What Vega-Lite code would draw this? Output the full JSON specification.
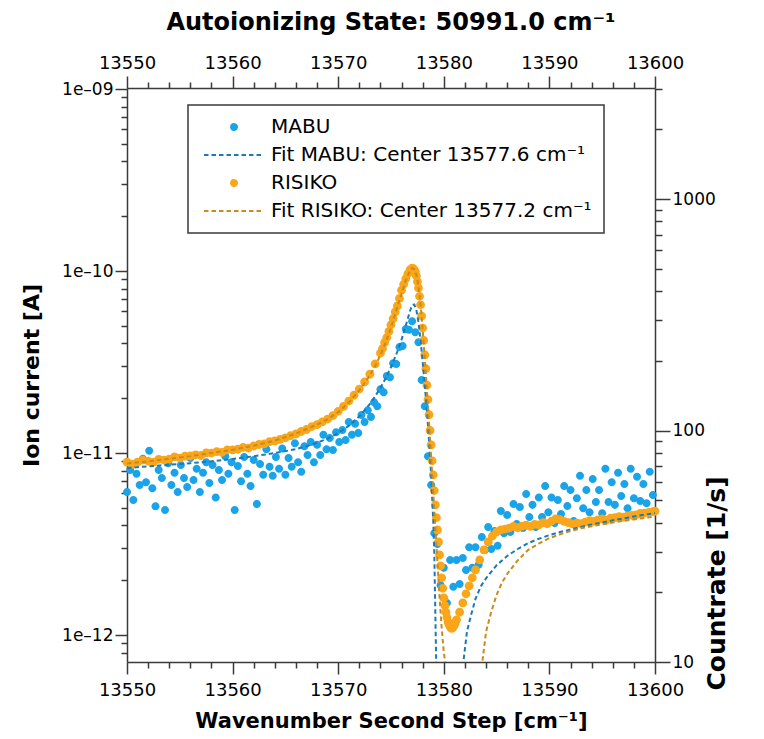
{
"$schema": "https://vega.github.io/schema/vega-lite/v6.json",
"width": 528, "height": 574,
"autosize": "none",
"padding": {"left": 127, "top": 88, "right": 109, "bottom": 77},
"background": "white",
"config": {
  "view": {"stroke": null},
  "font": "DejaVu Sans",
  "axis": {"domainColor": "#3a3a3a", "domainWidth": 1.5, "tickColor": "#3a3a3a", "tickWidth": 1.5, "labelFont": "DejaVu Sans", "labelFontSize": 17, "labelColor": "black", "titleFont": "DejaVu Sans", "titleFontSize": 22, "titleFontWeight": "bold", "titleColor": "black", "grid": false, "labelFlush": false, "labelOverlap": false},
  "legend": {"orient": "none", "legendX": 61, "legendY": 17, "padding": 12, "strokeColor": "#3a3a3a", "strokeWidth": 1.5, "fillColor": "white", "labelFont": "DejaVu Sans", "labelFontSize": 20, "labelColor": "black", "labelLimit": 0, "symbolSize": 100, "symbolStrokeWidth": 2, "symbolOpacity": 1, "symbolOffset": 24, "labelOffset": 27, "rowPadding": 8}
},
"title": {"text": "Autoionizing State: 50991.0 cm⁻¹", "font": "DejaVu Sans", "fontSize": 24, "fontWeight": "bold", "color": "black", "offset": 19},
"datasets": {
"mabu": [
{"wavenumber":13550.0,"current":6.1e-12},{"wavenumber":13550.3,"current":8.07e-12},{"wavenumber":13550.6,"current":5.52e-12},{"wavenumber":13550.9,"current":7.7e-12},{"wavenumber":13551.2,"current":6.68e-12},{"wavenumber":13551.5,"current":9.3e-12},{"wavenumber":13551.8,"current":6.9e-12},{"wavenumber":13552.1,"current":10.3e-12},{"wavenumber":13552.4,"current":6.4e-12},{"wavenumber":13552.7,"current":5.1e-12},
{"wavenumber":13553.0,"current":8.07e-12},{"wavenumber":13553.3,"current":7.3e-12},{"wavenumber":13553.6,"current":4.87e-12},{"wavenumber":13553.9,"current":8.8e-12},{"wavenumber":13554.2,"current":6.68e-12},{"wavenumber":13554.5,"current":7.8e-12},{"wavenumber":13554.8,"current":6.1e-12},{"wavenumber":13555.1,"current":8.6e-12},{"wavenumber":13555.4,"current":7.3e-12},{"wavenumber":13555.7,"current":6.5e-12},
{"wavenumber":13556.0,"current":9.4e-12},{"wavenumber":13556.3,"current":7.1e-12},{"wavenumber":13556.6,"current":8.2e-12},{"wavenumber":13556.9,"current":6.1e-12},{"wavenumber":13557.2,"current":7.8e-12},{"wavenumber":13557.5,"current":8.9e-12},{"wavenumber":13557.8,"current":6.85e-12},{"wavenumber":13558.1,"current":8.6e-12},{"wavenumber":13558.4,"current":5.7e-12},{"wavenumber":13558.7,"current":8.07e-12},
{"wavenumber":13559.0,"current":7.1e-12},{"wavenumber":13559.3,"current":9.6e-12},{"wavenumber":13559.6,"current":7.7e-12},{"wavenumber":13559.9,"current":8.9e-12},{"wavenumber":13560.2,"current":4.87e-12},{"wavenumber":13560.5,"current":8.5e-12},{"wavenumber":13560.8,"current":7.0e-12},{"wavenumber":13561.1,"current":9.5e-12},{"wavenumber":13561.4,"current":7.7e-12},{"wavenumber":13561.7,"current":6.6e-12},
{"wavenumber":13562.0,"current":9.15e-12},{"wavenumber":13562.3,"current":5.25e-12},{"wavenumber":13562.6,"current":8.7e-12},{"wavenumber":13562.9,"current":7.6e-12},{"wavenumber":13563.2,"current":10.5e-12},{"wavenumber":13563.5,"current":8.4e-12},{"wavenumber":13563.8,"current":7.5e-12},{"wavenumber":13564.1,"current":9.5e-12},{"wavenumber":13564.4,"current":8.2e-12},{"wavenumber":13564.7,"current":10.6e-12},
{"wavenumber":13565.0,"current":7.6e-12},{"wavenumber":13565.3,"current":9.4e-12},{"wavenumber":13565.6,"current":8.4e-12},{"wavenumber":13565.9,"current":11.3e-12},{"wavenumber":13566.2,"current":8.9e-12},{"wavenumber":13566.5,"current":7.9e-12},{"wavenumber":13566.8,"current":10.9e-12},{"wavenumber":13567.1,"current":9.75e-12},{"wavenumber":13567.4,"current":11.5e-12},{"wavenumber":13567.7,"current":8.9e-12},
{"wavenumber":13568.0,"current":11.1e-12},{"wavenumber":13568.3,"current":9.75e-12},{"wavenumber":13568.6,"current":12.6e-12},{"wavenumber":13568.9,"current":10.5e-12},{"wavenumber":13569.2,"current":12.1e-12},{"wavenumber":13569.5,"current":10.4e-12},{"wavenumber":13569.8,"current":13.0e-12},{"wavenumber":13570.1,"current":11.5e-12},{"wavenumber":13570.4,"current":13.4e-12},{"wavenumber":13570.7,"current":11.8e-12},
{"wavenumber":13571.0,"current":14.8e-12},{"wavenumber":13571.3,"current":12.6e-12},{"wavenumber":13571.6,"current":14.5e-12},{"wavenumber":13571.9,"current":12.9e-12},{"wavenumber":13572.2,"current":16.2e-12},{"wavenumber":13572.5,"current":14.8e-12},{"wavenumber":13572.8,"current":17.2e-12},{"wavenumber":13573.1,"current":15.8e-12},{"wavenumber":13573.4,"current":19.0e-12},{"wavenumber":13573.7,"current":18.1e-12},
{"wavenumber":13574.0,"current":22.4e-12},{"wavenumber":13574.3,"current":21.6e-12},{"wavenumber":13574.6,"current":26.5e-12},{"wavenumber":13574.9,"current":26.1e-12},{"wavenumber":13575.2,"current":31.1e-12},{"wavenumber":13575.5,"current":30.8e-12},{"wavenumber":13575.8,"current":38.2e-12},{"wavenumber":13576.1,"current":38.7e-12},{"wavenumber":13576.4,"current":48.0e-12},{"wavenumber":13576.7,"current":47.5e-12},
{"wavenumber":13577.0,"current":52.9e-12},{"wavenumber":13577.3,"current":46.1e-12},{"wavenumber":13577.6,"current":40.6e-12},{"wavenumber":13577.9,"current":25.2e-12},{"wavenumber":13578.2,"current":18.1e-12},{"wavenumber":13578.5,"current":9.6e-12},{"wavenumber":13578.8,"current":6.68e-12},{"wavenumber":13579.1,"current":3.63e-12},{"wavenumber":13579.4,"current":3.16e-12},{"wavenumber":13579.7,"current":1.88e-12},
{"wavenumber":13580.0,"current":2.34e-12},{"wavenumber":13580.3,"current":1.50e-12},{"wavenumber":13580.6,"current":2.58e-12},{"wavenumber":13580.9,"current":1.84e-12},{"wavenumber":13581.2,"current":2.58e-12},{"wavenumber":13581.5,"current":1.91e-12},{"wavenumber":13581.8,"current":2.65e-12},{"wavenumber":13582.1,"current":2.28e-12},{"wavenumber":13582.4,"current":3.04e-12},{"wavenumber":13582.7,"current":2.34e-12},
{"wavenumber":13583.0,"current":3.04e-12},{"wavenumber":13583.3,"current":2.43e-12},{"wavenumber":13583.6,"current":3.46e-12},{"wavenumber":13583.9,"current":2.93e-12},{"wavenumber":13584.2,"current":3.92e-12},{"wavenumber":13584.5,"current":2.97e-12},{"wavenumber":13584.8,"current":3.73e-12},{"wavenumber":13585.1,"current":3.09e-12},{"wavenumber":13585.4,"current":4.8e-12},{"wavenumber":13585.7,"current":3.63e-12},
{"wavenumber":13586.0,"current":4.57e-12},{"wavenumber":13586.3,"current":3.68e-12},{"wavenumber":13586.6,"current":5.25e-12},{"wavenumber":13586.9,"current":4.07e-12},{"wavenumber":13587.2,"current":5.05e-12},{"wavenumber":13587.5,"current":3.87e-12},{"wavenumber":13587.8,"current":5.95e-12},{"wavenumber":13588.1,"current":4.45e-12},{"wavenumber":13588.4,"current":5.19e-12},{"wavenumber":13588.7,"current":3.92e-12},
{"wavenumber":13589.0,"current":5.7e-12},{"wavenumber":13589.3,"current":4.45e-12},{"wavenumber":13589.6,"current":6.6e-12},{"wavenumber":13589.9,"current":4.73e-12},{"wavenumber":13590.2,"current":5.7e-12},{"wavenumber":13590.5,"current":4.12e-12},{"wavenumber":13590.8,"current":5.52e-12},{"wavenumber":13591.1,"current":4.62e-12},{"wavenumber":13591.4,"current":6.6e-12},{"wavenumber":13591.7,"current":5.12e-12},
{"wavenumber":13592.0,"current":6.27e-12},{"wavenumber":13592.3,"current":4.23e-12},{"wavenumber":13592.6,"current":5.65e-12},{"wavenumber":13592.9,"current":7.5e-12},{"wavenumber":13593.2,"current":4.98e-12},{"wavenumber":13593.5,"current":6.27e-12},{"wavenumber":13593.8,"current":4.73e-12},{"wavenumber":13594.1,"current":7.2e-12},{"wavenumber":13594.4,"current":5.38e-12},{"wavenumber":13594.7,"current":6.27e-12},
{"wavenumber":13595.0,"current":4.67e-12},{"wavenumber":13595.3,"current":8.2e-12},{"wavenumber":13595.6,"current":5.38e-12},{"wavenumber":13595.9,"current":6.9e-12},{"wavenumber":13596.2,"current":5.19e-12},{"wavenumber":13596.5,"current":7.8e-12},{"wavenumber":13596.8,"current":5.8e-12},{"wavenumber":13597.1,"current":6.75e-12},{"wavenumber":13597.4,"current":4.98e-12},{"wavenumber":13597.7,"current":8.2e-12},
{"wavenumber":13598.0,"current":5.65e-12},{"wavenumber":13598.3,"current":7.4e-12},{"wavenumber":13598.6,"current":5.45e-12},{"wavenumber":13598.9,"current":6.75e-12},{"wavenumber":13599.2,"current":5.3e-12},{"wavenumber":13599.5,"current":7.9e-12},{"wavenumber":13599.8,"current":5.88e-12}
],
"risiko": [
{"wavenumber":13550.0,"countrate":73},{"wavenumber":13550.5,"countrate":71.5},{"wavenumber":13551.0,"countrate":73},{"wavenumber":13551.5,"countrate":74.5},{"wavenumber":13552.0,"countrate":73.8},{"wavenumber":13552.5,"countrate":73},{"wavenumber":13553.0,"countrate":75},{"wavenumber":13553.5,"countrate":74.5},{"wavenumber":13554.0,"countrate":75.3},{"wavenumber":13554.5,"countrate":77},
{"wavenumber":13555.0,"countrate":76},{"wavenumber":13555.5,"countrate":77.5},{"wavenumber":13556.0,"countrate":77.6},{"wavenumber":13556.5,"countrate":78.5},{"wavenumber":13557.0,"countrate":78},{"wavenumber":13557.5,"countrate":80},{"wavenumber":13558.0,"countrate":79.9},{"wavenumber":13558.5,"countrate":81},{"wavenumber":13559.0,"countrate":80.5},{"wavenumber":13559.5,"countrate":82.5},
{"wavenumber":13560.0,"countrate":82.4},{"wavenumber":13560.5,"countrate":83},{"wavenumber":13561.0,"countrate":84.5},{"wavenumber":13561.5,"countrate":84},{"wavenumber":13562.0,"countrate":85.7},{"wavenumber":13562.5,"countrate":87},{"wavenumber":13563.0,"countrate":87.5},{"wavenumber":13563.5,"countrate":89.5},{"wavenumber":13564.0,"countrate":90.1},{"wavenumber":13564.5,"countrate":91.5},
{"wavenumber":13565.0,"countrate":93},{"wavenumber":13565.5,"countrate":95},{"wavenumber":13566.0,"countrate":96.6},{"wavenumber":13566.5,"countrate":99},{"wavenumber":13567.0,"countrate":101},{"wavenumber":13567.5,"countrate":104},{"wavenumber":13568.0,"countrate":106},{"wavenumber":13568.5,"countrate":109},{"wavenumber":13569.0,"countrate":112},{"wavenumber":13569.5,"countrate":116},
{"wavenumber":13570.0,"countrate":121},{"wavenumber":13570.5,"countrate":127},{"wavenumber":13571.0,"countrate":134},{"wavenumber":13571.5,"countrate":142},{"wavenumber":13572.0,"countrate":151},{"wavenumber":13572.5,"countrate":162},{"wavenumber":13573.0,"countrate":175},{"wavenumber":13573.5,"countrate":194},{"wavenumber":13574.0,"countrate":216},
{"wavenumber":13574.2,"countrate":226},{"wavenumber":13574.4,"countrate":240},{"wavenumber":13574.6,"countrate":252},{"wavenumber":13574.8,"countrate":268},{"wavenumber":13575.0,"countrate":286},{"wavenumber":13575.2,"countrate":304},{"wavenumber":13575.4,"countrate":325},{"wavenumber":13575.6,"countrate":345},{"wavenumber":13575.8,"countrate":372},{"wavenumber":13576.0,"countrate":404},
{"wavenumber":13576.2,"countrate":428},{"wavenumber":13576.4,"countrate":452},{"wavenumber":13576.6,"countrate":475},{"wavenumber":13576.8,"countrate":494},{"wavenumber":13577.0,"countrate":503},{"wavenumber":13577.1,"countrate":500},{"wavenumber":13577.2,"countrate":494},{"wavenumber":13577.3,"countrate":485},{"wavenumber":13577.4,"countrate":465},{"wavenumber":13577.5,"countrate":440},
{"wavenumber":13577.6,"countrate":413},{"wavenumber":13577.7,"countrate":380},{"wavenumber":13577.8,"countrate":349},{"wavenumber":13577.9,"countrate":312},{"wavenumber":13578.0,"countrate":277},{"wavenumber":13578.1,"countrate":245},{"wavenumber":13578.2,"countrate":212},{"wavenumber":13578.3,"countrate":185},{"wavenumber":13578.4,"countrate":157},{"wavenumber":13578.5,"countrate":136},
{"wavenumber":13578.6,"countrate":117},{"wavenumber":13578.7,"countrate":100},{"wavenumber":13578.8,"countrate":86.6},{"wavenumber":13578.9,"countrate":74},{"wavenumber":13579.0,"countrate":64.3},{"wavenumber":13579.1,"countrate":55},{"wavenumber":13579.2,"countrate":47.7},{"wavenumber":13579.3,"countrate":42},{"wavenumber":13579.4,"countrate":37.2},{"wavenumber":13579.5,"countrate":33},
{"wavenumber":13579.6,"countrate":29.0},{"wavenumber":13579.7,"countrate":26},{"wavenumber":13579.8,"countrate":23.1},{"wavenumber":13579.9,"countrate":20.8},{"wavenumber":13580.0,"countrate":18.9},{"wavenumber":13580.1,"countrate":17.5},{"wavenumber":13580.2,"countrate":16.4},{"wavenumber":13580.3,"countrate":15.6},{"wavenumber":13580.4,"countrate":14.9},{"wavenumber":13580.5,"countrate":14.5},
{"wavenumber":13580.6,"countrate":14.2},{"wavenumber":13580.7,"countrate":14.0},{"wavenumber":13580.8,"countrate":14.0},{"wavenumber":13580.9,"countrate":14.2},{"wavenumber":13581.0,"countrate":14.4},{"wavenumber":13581.1,"countrate":14.8},{"wavenumber":13581.2,"countrate":15.2},{"wavenumber":13581.5,"countrate":16.4},{"wavenumber":13581.8,"countrate":18.0},{"wavenumber":13582.1,"countrate":19.7},
{"wavenumber":13582.4,"countrate":21.3},{"wavenumber":13582.7,"countrate":23.1},{"wavenumber":13583.0,"countrate":25.0},{"wavenumber":13583.4,"countrate":27.6},{"wavenumber":13583.8,"countrate":30.5},{"wavenumber":13584.2,"countrate":33.0},{"wavenumber":13584.6,"countrate":35.0},{"wavenumber":13585.0,"countrate":36.4},{"wavenumber":13585.4,"countrate":37.2},{"wavenumber":13585.8,"countrate":37.5},
{"wavenumber":13586.2,"countrate":37.9},{"wavenumber":13586.6,"countrate":38.5},{"wavenumber":13587.0,"countrate":38.0},{"wavenumber":13587.4,"countrate":38.6},{"wavenumber":13587.8,"countrate":39.0},{"wavenumber":13588.2,"countrate":38.5},{"wavenumber":13588.6,"countrate":39.3},{"wavenumber":13589.0,"countrate":39.1},{"wavenumber":13589.4,"countrate":40.0},{"wavenumber":13589.8,"countrate":39.6},
{"wavenumber":13590.2,"countrate":40.6},{"wavenumber":13590.6,"countrate":41.5},{"wavenumber":13591.0,"countrate":41.2},{"wavenumber":13591.4,"countrate":40.5},{"wavenumber":13591.8,"countrate":40.0},{"wavenumber":13592.2,"countrate":39.5},{"wavenumber":13592.6,"countrate":39.8},{"wavenumber":13593.0,"countrate":39.6},{"wavenumber":13593.4,"countrate":40.2},{"wavenumber":13593.8,"countrate":40.8},
{"wavenumber":13594.2,"countrate":40.5},{"wavenumber":13594.6,"countrate":41.1},{"wavenumber":13595.0,"countrate":41.5},{"wavenumber":13595.4,"countrate":41.0},{"wavenumber":13595.8,"countrate":41.8},{"wavenumber":13596.2,"countrate":42.0},{"wavenumber":13596.6,"countrate":42.5},{"wavenumber":13597.0,"countrate":42.2},{"wavenumber":13597.4,"countrate":42.8},{"wavenumber":13597.8,"countrate":43.0},
{"wavenumber":13598.2,"countrate":43.2},{"wavenumber":13598.6,"countrate":43.8},{"wavenumber":13599.0,"countrate":44.0},{"wavenumber":13599.4,"countrate":44.3},{"wavenumber":13599.8,"countrate":44.6},{"wavenumber":13600.0,"countrate":44.8}
],
"mabu_fit": [
{"wavenumber":13550,"current":8.27e-12},{"wavenumber":13552,"current":8.45e-12},{"wavenumber":13554,"current":8.62e-12},{"wavenumber":13556,"current":8.8e-12},{"wavenumber":13558,"current":9.0e-12},{"wavenumber":13560,"current":9.27e-12},{"wavenumber":13562,"current":9.6e-12},{"wavenumber":13564,"current":10.0e-12},{"wavenumber":13566,"current":10.5e-12},{"wavenumber":13567,"current":10.9e-12},
{"wavenumber":13568,"current":11.4e-12},{"wavenumber":13569,"current":12.0e-12},{"wavenumber":13570,"current":12.9e-12},{"wavenumber":13571,"current":14.1e-12},{"wavenumber":13572,"current":15.9e-12},{"wavenumber":13573,"current":18.6e-12},{"wavenumber":13573.5,"current":20.5e-12},{"wavenumber":13574,"current":22.8e-12},{"wavenumber":13574.5,"current":25.8e-12},{"wavenumber":13575,"current":29.6e-12},
{"wavenumber":13575.5,"current":34.8e-12},{"wavenumber":13576,"current":42.0e-12},{"wavenumber":13576.5,"current":52.5e-12},{"wavenumber":13576.8,"current":60.3e-12},{"wavenumber":13577.0,"current":65.0e-12},{"wavenumber":13577.2,"current":65.5e-12},{"wavenumber":13577.4,"current":61.1e-12},{"wavenumber":13577.6,"current":52.5e-12},{"wavenumber":13577.8,"current":41.8e-12},{"wavenumber":13578.0,"current":31.6e-12},
{"wavenumber":13578.2,"current":23.6e-12},{"wavenumber":13578.4,"current":17.2e-12},{"wavenumber":13578.6,"current":11.8e-12},{"wavenumber":13578.8,"current":7.57e-12},{"wavenumber":13579.0,"current":4.28e-12},{"wavenumber":13579.1,"current":2.8e-12},{"wavenumber":13579.2,"current":1.3e-12},{"wavenumber":13579.3,"current":0.6e-12},{"wavenumber":13579.4,"current":0.35e-12},{"wavenumber":13579.8,"current":0.1e-12},
{"wavenumber":13580.5,"current":0.005e-12},{"wavenumber":13581.2,"current":0.1e-12},{"wavenumber":13581.5,"current":0.35e-12},{"wavenumber":13581.85,"current":0.71e-12},{"wavenumber":13582.2,"current":1.05e-12},{"wavenumber":13582.6,"current":1.3e-12},{"wavenumber":13583,"current":1.58e-12},{"wavenumber":13583.5,"current":1.85e-12},{"wavenumber":13584,"current":2.05e-12},{"wavenumber":13585,"current":2.42e-12},
{"wavenumber":13586,"current":2.72e-12},{"wavenumber":13587,"current":2.97e-12},{"wavenumber":13588,"current":3.2e-12},{"wavenumber":13589,"current":3.38e-12},{"wavenumber":13590,"current":3.54e-12},{"wavenumber":13591,"current":3.68e-12},{"wavenumber":13592,"current":3.8e-12},{"wavenumber":13593,"current":3.93e-12},{"wavenumber":13594,"current":4.05e-12},{"wavenumber":13595,"current":4.15e-12},
{"wavenumber":13596,"current":4.27e-12},{"wavenumber":13597,"current":4.37e-12},{"wavenumber":13598,"current":4.48e-12},{"wavenumber":13599,"current":4.58e-12},{"wavenumber":13600,"current":4.68e-12}
],
"risiko_fit": [
{"wavenumber":13550,"countrate":72},{"wavenumber":13552,"countrate":73.5},{"wavenumber":13554,"countrate":75.5},{"wavenumber":13556,"countrate":77.5},{"wavenumber":13558,"countrate":80},{"wavenumber":13560,"countrate":82.5},{"wavenumber":13562,"countrate":86},{"wavenumber":13564,"countrate":90.5},{"wavenumber":13566,"countrate":97},{"wavenumber":13568,"countrate":106},
{"wavenumber":13569,"countrate":112},{"wavenumber":13570,"countrate":120},{"wavenumber":13571,"countrate":132},{"wavenumber":13572,"countrate":149},{"wavenumber":13573,"countrate":173},{"wavenumber":13573.5,"countrate":190},{"wavenumber":13574,"countrate":212},{"wavenumber":13574.5,"countrate":240},{"wavenumber":13575,"countrate":278},{"wavenumber":13575.5,"countrate":330},
{"wavenumber":13576,"countrate":390},{"wavenumber":13576.4,"countrate":445},{"wavenumber":13576.8,"countrate":490},{"wavenumber":13577.0,"countrate":503},{"wavenumber":13577.2,"countrate":497},{"wavenumber":13577.4,"countrate":470},{"wavenumber":13577.6,"countrate":420},{"wavenumber":13577.8,"countrate":350},{"wavenumber":13578.0,"countrate":272},{"wavenumber":13578.2,"countrate":205},
{"wavenumber":13578.4,"countrate":150},{"wavenumber":13578.6,"countrate":108},{"wavenumber":13578.8,"countrate":77},{"wavenumber":13579.0,"countrate":54},{"wavenumber":13579.2,"countrate":38},{"wavenumber":13579.4,"countrate":27},{"wavenumber":13579.6,"countrate":19},{"wavenumber":13579.8,"countrate":14},{"wavenumber":13580.0,"countrate":11},{"wavenumber":13580.2,"countrate":9.5},
{"wavenumber":13580.5,"countrate":6},{"wavenumber":13581.0,"countrate":2},{"wavenumber":13581.5,"countrate":0.3},{"wavenumber":13581.9,"countrate":0.02},{"wavenumber":13582.3,"countrate":0.3},{"wavenumber":13582.7,"countrate":2.5},{"wavenumber":13583.0,"countrate":5.5},{"wavenumber":13583.3,"countrate":7.8},{"wavenumber":13583.65,"countrate":10},{"wavenumber":13584.0,"countrate":13.5},
{"wavenumber":13584.5,"countrate":16.5},{"wavenumber":13585,"countrate":19.5},{"wavenumber":13585.5,"countrate":22},{"wavenumber":13586,"countrate":24},{"wavenumber":13587,"countrate":27.5},{"wavenumber":13588,"countrate":30.5},{"wavenumber":13589,"countrate":32.5},{"wavenumber":13590,"countrate":34.3},{"wavenumber":13591,"countrate":35.6},{"wavenumber":13592,"countrate":36.8},
{"wavenumber":13593,"countrate":37.8},{"wavenumber":13594,"countrate":38.6},{"wavenumber":13595,"countrate":39.3},{"wavenumber":13596,"countrate":40},{"wavenumber":13597,"countrate":40.7},{"wavenumber":13598,"countrate":41.3},{"wavenumber":13599,"countrate":41.9},{"wavenumber":13600,"countrate":42.5}
]
},
"resolve": {"scale": {"y": "independent"}, "axis": {"x": "independent", "y": "independent"}},
"layer": [
{
  "data": {"name": "mabu"},
  "mark": {"type": "point", "filled": true, "size": 178, "opacity": 1},
  "encoding": {
    "x": {"field": "wavenumber", "type": "quantitative", "scale": {"domain": [13550, 13600], "nice": false, "zero": false},
      "axis": {"orient": "bottom", "values": [13550,13552,13554,13556,13558,13560,13562,13564,13566,13568,13570,13572,13574,13576,13578,13580,13582,13584,13586,13588,13590,13592,13594,13596,13598,13600], "format": "d", "labelExpr": "datum.value % 10 === 0 ? datum.label : ''", "tickSize": {"condition": {"test": "datum.value % 10 === 0", "value": 12}, "value": 6}, "labelFontSize": 18, "labelPadding": 7, "title": "Wavenumber Second Step [cm⁻¹]", "titleFontSize": 21, "titlePadding": 11}},
    "y": {"field": "current", "type": "quantitative", "scale": {"type": "log", "domain": [7.11e-13, 1.013e-9], "nice": false},
      "axis": {"orient": "left", "values": [8e-13,9e-13,1e-12,2e-12,3e-12,4e-12,5e-12,6e-12,7e-12,8e-12,9e-12,1e-11,2e-11,3e-11,4e-11,5e-11,6e-11,7e-11,8e-11,9e-11,1e-10,2e-10,3e-10,4e-10,5e-10,6e-10,7e-10,8e-10,9e-10,1e-9], "labelExpr": "abs(log(datum.value)/LN10 - round(log(datum.value)/LN10)) < 0.01 ? '1e–' + format(-round(log(datum.value)/LN10), '02d') : ''", "tickSize": {"condition": {"test": "abs(log(datum.value)/LN10 - round(log(datum.value)/LN10)) < 0.01", "value": 12}, "value": 6}, "labelPadding": 2, "title": "Ion current [A]", "titlePadding": 18}},
    "fill": {"datum": "MABU", "type": "nominal",
      "scale": {"domain": ["MABU", "Fit MABU: Center 13577.6 cm⁻¹", "RISIKO", "Fit RISIKO: Center 13577.2 cm⁻¹"], "range": ["#19a3e8", "transparent", "#faa61a", "transparent"]},
      "legend": {"title": null}},
    "shape": {"datum": "MABU", "type": "nominal",
      "scale": {"domain": ["MABU", "Fit MABU: Center 13577.6 cm⁻¹", "RISIKO", "Fit RISIKO: Center 13577.2 cm⁻¹"], "range": ["M-0.6,0A0.6,0.6,0,1,0,0.6,0A0.6,0.6,0,1,0,-0.6,0Z", "M-6,0H6", "M-0.6,0A0.6,0.6,0,1,0,0.6,0A0.6,0.6,0,1,0,-0.6,0Z", "M-6,0H6"]},
      "legend": {"title": null}}
  }
},
{
  "data": {"name": "risiko"},
  "mark": {"type": "point", "filled": true, "size": 215, "opacity": 1},
  "encoding": {
    "x": {"field": "wavenumber", "type": "quantitative", "scale": {"domain": [13550, 13600], "nice": false, "zero": false},
      "axis": {"orient": "top", "values": [13550,13552,13554,13556,13558,13560,13562,13564,13566,13568,13570,13572,13574,13576,13578,13580,13582,13584,13586,13588,13590,13592,13594,13596,13598,13600], "format": "d", "labelExpr": "datum.value % 10 === 0 ? datum.label : ''", "tickSize": {"condition": {"test": "datum.value % 10 === 0", "value": 12}, "value": 6}, "labelFontSize": 18, "labelPadding": 4, "title": null}},
    "y": {"field": "countrate", "type": "quantitative", "scale": {"type": "log", "domain": [10, 3017], "nice": false},
      "axis": {"orient": "right", "values": [10,20,30,40,50,60,70,80,90,100,200,300,400,500,600,700,800,900,1000,2000,3000], "format": "d", "labelExpr": "(datum.value === 10 || datum.value === 100 || datum.value === 1000) ? datum.label : ''", "tickSize": {"condition": {"test": "datum.value === 10 || datum.value === 100 || datum.value === 1000", "value": 15}, "value": 7}, "labelPadding": 2, "title": "Countrate [1/s]", "titleAngle": 270, "titleFontSize": 25, "titlePadding": 14, "titleY": 495}},
    "fill": {"datum": "RISIKO", "type": "nominal", "legend": null},
    "shape": {"datum": "RISIKO", "type": "nominal", "legend": null}
  }
},
{
  "data": {"name": "mabu_fit"},
  "mark": {"type": "line", "strokeWidth": 2, "clip": true},
  "encoding": {
    "x": {"field": "wavenumber", "type": "quantitative", "scale": {"domain": [13550, 13600], "nice": false, "zero": false}, "axis": null},
    "y": {"field": "current", "type": "quantitative", "scale": {"type": "log", "domain": [7.11e-13, 1.013e-9], "nice": false}, "axis": null},
    "stroke": {"datum": "Fit MABU: Center 13577.6 cm⁻¹", "type": "nominal",
      "scale": {"domain": ["MABU", "Fit MABU: Center 13577.6 cm⁻¹", "RISIKO", "Fit RISIKO: Center 13577.2 cm⁻¹"], "range": ["#19a3e8", "#1c79b8", "#faa61a", "#c98a1e"]},
      "legend": {"title": null}},
    "strokeDash": {"datum": "Fit MABU: Center 13577.6 cm⁻¹", "type": "nominal",
      "scale": {"domain": ["MABU", "Fit MABU: Center 13577.6 cm⁻¹", "RISIKO", "Fit RISIKO: Center 13577.2 cm⁻¹"], "range": [[1, 0], [4.5, 3], [1, 0], [4.5, 3]]},
      "legend": {"title": null}}
  }
},
{
  "data": {"name": "risiko_fit"},
  "mark": {"type": "line", "strokeWidth": 2, "clip": true},
  "encoding": {
    "x": {"field": "wavenumber", "type": "quantitative", "scale": {"domain": [13550, 13600], "nice": false, "zero": false}, "axis": null},
    "y": {"field": "countrate", "type": "quantitative", "scale": {"type": "log", "domain": [10, 3017], "nice": false}, "axis": null},
    "stroke": {"datum": "Fit RISIKO: Center 13577.2 cm⁻¹", "type": "nominal", "legend": null},
    "strokeDash": {"datum": "Fit RISIKO: Center 13577.2 cm⁻¹", "type": "nominal", "legend": null}
  }
}
]
}
